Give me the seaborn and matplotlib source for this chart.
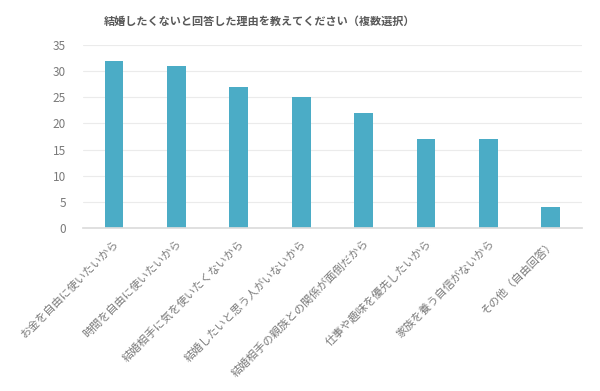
import matplotlib
matplotlib.use('Agg')
import matplotlib.pyplot as plt
import seaborn as sns

reasons = ['お金を自由に使いたいから', '時間を自由に使いたいから', '結婚相手に気を使いたくないから',
           '結婚したいと思う人がいないから', '結婚相手の親族との関係が面倒だから',
           '仕事や趣味を優先したいから', '家族を養う自信がないから', 'その他（自由回答）']
counts = [32, 31, 27, 25, 22, 17, 17, 4]

sns.set_theme(style='white')
plt.rcParams['font.family'] = ['Noto Sans CJK JP', 'DejaVu Sans']

fig = plt.figure(figsize=(6, 3.91), dpi=100)
ax = fig.add_axes([0.138, 0.417, 0.832, 0.468])
sns.barplot(x=reasons, y=counts, color='#4bacc6', width=0.3, saturation=1,
            linewidth=0, ax=ax)

ax.set_ylim(0, 35)
ax.set_yticks(range(0, 36, 5))
ax.set_xlim(-0.5, 7.5)
ax.yaxis.grid(True, color='#ebebeb', linewidth=0.8)
ax.set_axisbelow(True)
for s in ['top', 'right', 'left']:
    ax.spines[s].set_visible(False)
ax.spines['bottom'].set_color('#dcdcdc')
ax.tick_params(axis='both', length=0, colors='#7a7a7a')
ax.tick_params(axis='y', pad=12, labelsize=8.5)
ax.tick_params(axis='x', pad=7, labelsize=8)
plt.setp(ax.get_xticklabels(), rotation=45, ha='right', rotation_mode='anchor')
ax.set_xlabel('')
ax.set_ylabel('')
fig.text(0.433, 0.945, '結婚したくないと回答した理由を教えてください（複数選択）', ha='center', va='center',
         fontsize=8, fontweight='bold', color='#595959')

fig.savefig('out.png', dpi=100)
